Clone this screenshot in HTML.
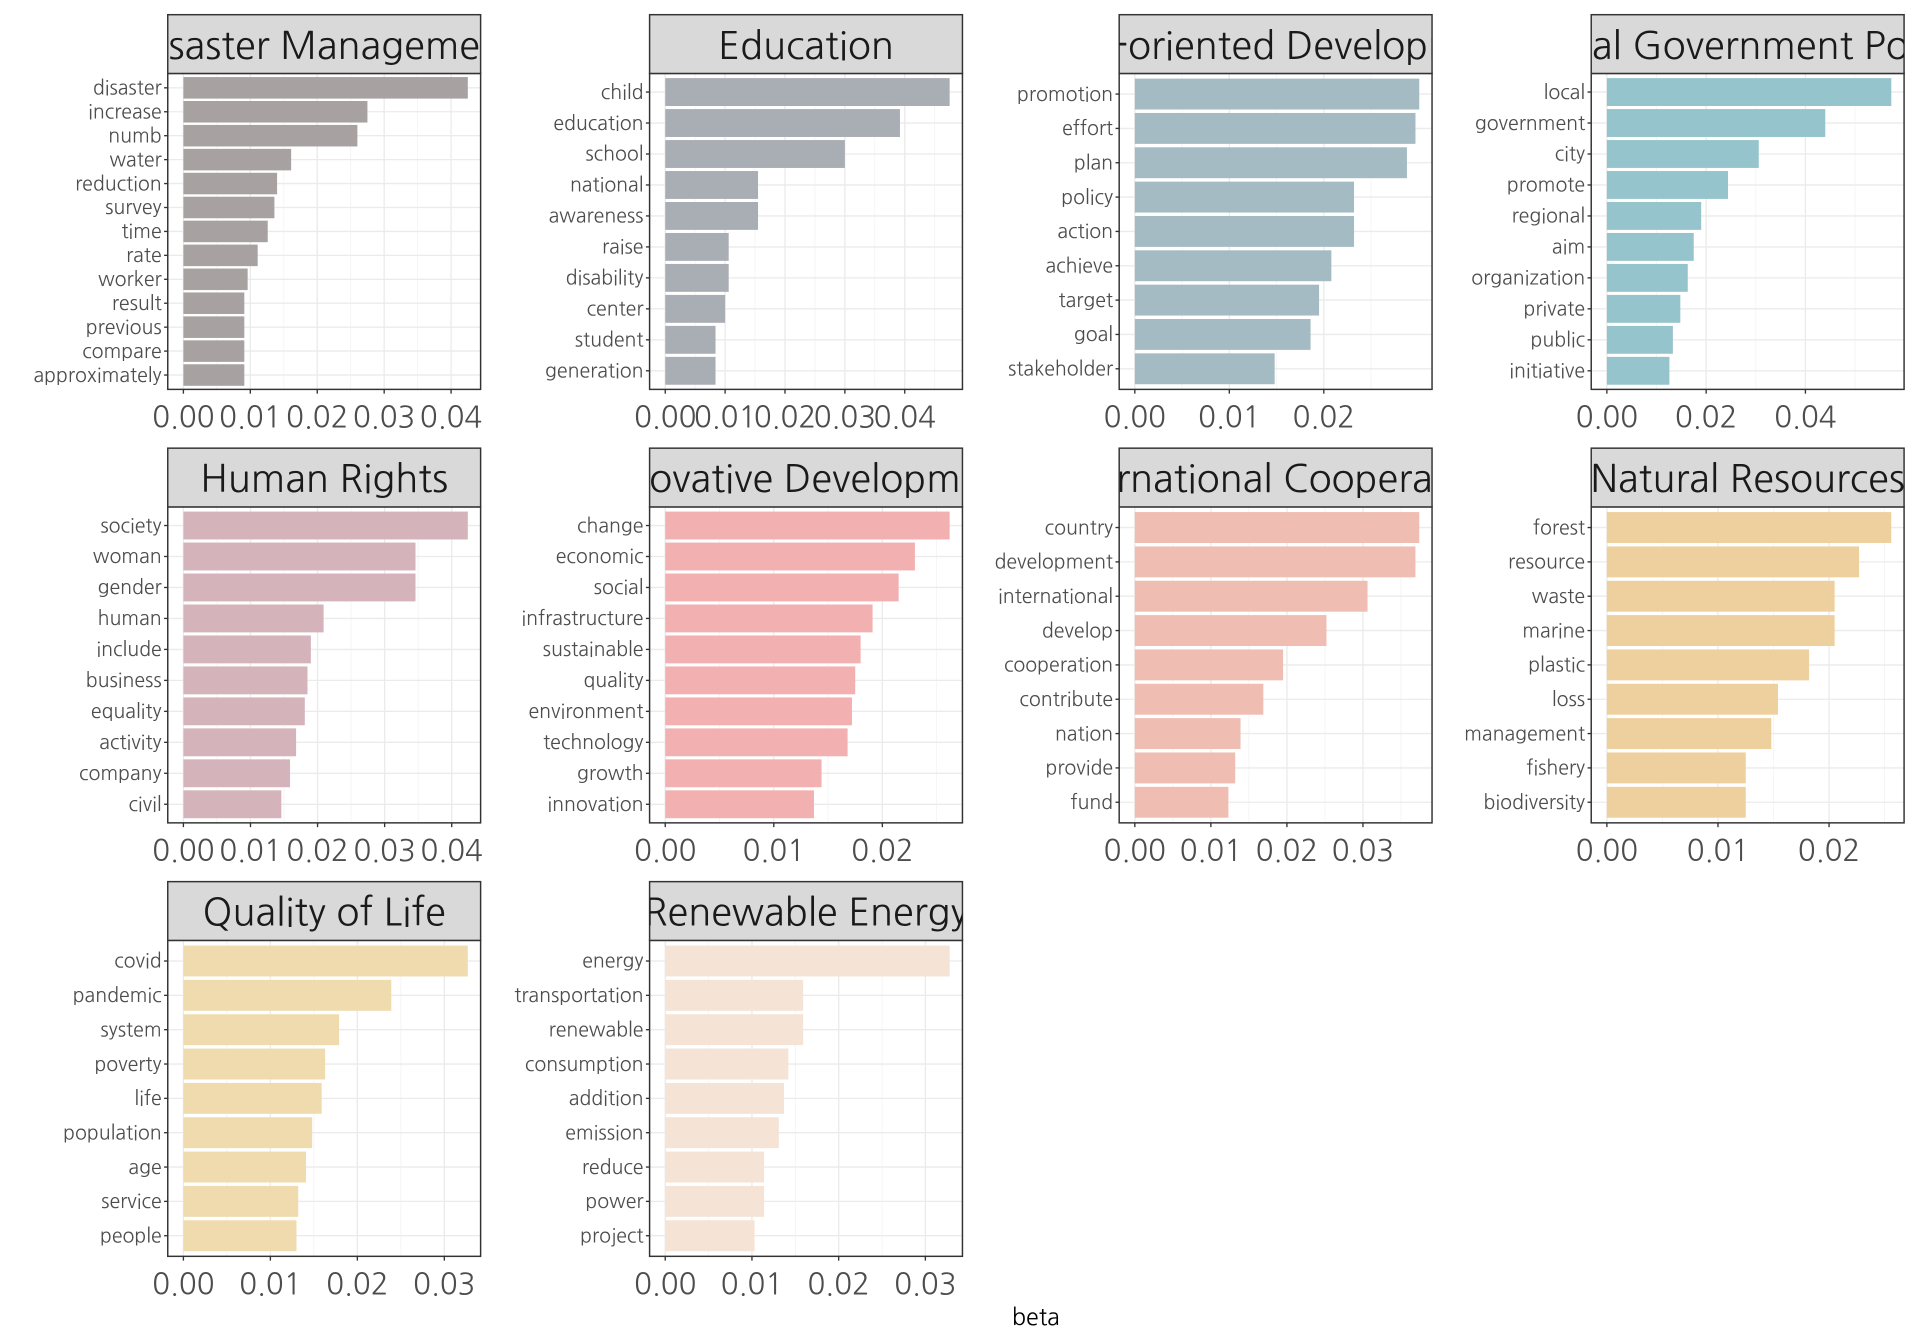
<!DOCTYPE html>
<html><head><meta charset="utf-8">
<style>
html,body{margin:0;padding:0;background:#fff;}
svg{display:block;}
text{font-family:"NanumGothic","Liberation Sans",sans-serif;}
</style></head>
<body>
<svg id="chart" width="1920" height="1344" viewBox="0 0 1568 1097.6" preserveAspectRatio="none" xmlns="http://www.w3.org/2000/svg"></svg>
<script>
const titles = ["Disaster Management","Education","Goal-oriented Development","Local Government Policy","Human Rights","Innovative Development","International Cooperation","Natural Resources","Quality of Life","Renewable Energy"];
const colors = ["#a7a1a1","#a9adb4","#a5bbc3","#95c4cc","#d5b3bb","#f2b1b0","#efbdb2","#eed09f","#f0dbae","#f5e3d5"];
const terms0 = ["disaster","increase","numb","water","reduction","survey","time","rate","worker","result","previous","compare","approximately"];
const vals0 = [0.0425,0.0275,0.0260,0.0161,0.0140,0.0136,0.0126,0.0111,0.0096,0.0091,0.0091,0.0091,0.0091];
const terms1 = ["child","education","school","national","awareness","raise","disability","center","student","generation"];
const vals1 = [0.0475,0.0392,0.0300,0.0155,0.0155,0.0106,0.0106,0.0100,0.0084,0.0084];
const terms2 = ["promotion","effort","plan","policy","action","achieve","target","goal","stakeholder"];
const vals2 = [0.0301,0.0297,0.0288,0.0232,0.0232,0.0208,0.0195,0.0186,0.0148];
const terms3 = ["local","government","city","promote","regional","aim","organization","private","public","initiative"];
const vals3 = [0.0573,0.0440,0.0306,0.0244,0.0190,0.0175,0.0163,0.0148,0.0133,0.0126];
const terms4 = ["society","woman","gender","human","include","business","equality","activity","company","civil"];
const vals4 = [0.0424,0.0346,0.0346,0.0209,0.0190,0.0185,0.0181,0.0168,0.0159,0.0146];
const terms5 = ["change","economic","social","infrastructure","sustainable","quality","environment","technology","growth","innovation"];
const vals5 = [0.0262,0.0230,0.0215,0.0191,0.0180,0.0175,0.0172,0.0168,0.0144,0.0137];
const terms6 = ["country","development","international","develop","cooperation","contribute","nation","provide","fund"];
const vals6 = [0.0374,0.0369,0.0306,0.0252,0.0195,0.0169,0.0139,0.0132,0.0123];
const terms7 = ["forest","resource","waste","marine","plastic","loss","management","fishery","biodiversity"];
const vals7 = [0.0256,0.0227,0.0205,0.0205,0.0182,0.0154,0.0148,0.0125,0.0125];
const terms8 = ["covid","pandemic","system","poverty","life","population","age","service","people"];
const vals8 = [0.0327,0.0239,0.0179,0.0163,0.0159,0.0148,0.0141,0.0132,0.0130];
const terms9 = ["energy","transportation","renewable","consumption","addition","emission","reduce","power","project"];
const vals9 = [0.0328,0.0159,0.0159,0.0142,0.0137,0.0131,0.0114,0.0114,0.0103];
const ticksA = [0,0.01,0.02,0.03,0.04];
const ticksB = [0,0.01,0.02];
const ticksC = [0,0.02,0.04];
const ticksD = [0,0.01,0.02,0.03];
const tickLabelsA = ["0.00","0.01","0.02","0.03","0.04"];
const tickLabelsB = ["0.00","0.01","0.02"];
const tickLabelsC = ["0.00","0.02","0.04"];
const tickLabelsD = ["0.00","0.01","0.02","0.03"];

const allTerms=[terms0,terms1,terms2,terms3,terms4,terms5,terms6,terms7,terms8,terms9];
const allVals=[vals0,vals1,vals2,vals3,vals4,vals5,vals6,vals7,vals8,vals9];
const allTicks=[ticksA,ticksA,ticksB,ticksC,ticksA,ticksB,ticksD,ticksB,ticksD,ticksD];
const allTickLabels=[tickLabelsA,tickLabelsA,tickLabelsB,tickLabelsC,tickLabelsA,tickLabelsB,tickLabelsD,tickLabelsB,tickLabelsD,tickLabelsD];

const NS="http://www.w3.org/2000/svg";
const svg=document.getElementById('chart');
function mk(tag,attrs,parent){const e=document.createElementNS(NS,tag);for(const k in attrs)e.setAttribute(k,attrs[k]);(parent||svg).appendChild(e);return e;}
const colX=[137,530.5,914,1299.5], PW=255.5;
const rowY=[12,366,720], SH=48, PH=258;
const defs=mk('defs',{});

for(let p=0;p<10;p++){
  const col=p%4,row=Math.floor(p/4);
  const x0=colX[col], sy=rowY[row], y0=sy+SH, y1=y0+PH;
  const terms=allTerms[p], vals=allVals[p];
  const g=mk('g',{});
  
  
  const maxV=Math.max(...vals);
  const sc=PW/(1.1*maxV);
  const xs=v=>x0+0.05*1.1*maxV*sc+v*sc;
  const n=terms.length, unit=PH/(n-1+1.2);
  const ys=i=>y0+(0.6+i)*unit; // i=0 top
  mk('rect',{x:x0,y:y0,width:PW,height:PH,fill:'#fff'},g);
  const ticks=allTicks[p];
  const step=ticks[1]-ticks[0];
  for(let k=0;k<=ticks.length;k++){
    const v=ticks[0]+(k+0.5)*step; const xx=xs(v);
    if(xx<x0+PW) mk('line',{x1:xx,x2:xx,y1:y0,y2:y1,stroke:'#f2f2f2','stroke-width':0.6},g);
  }
  ticks.forEach(t=>{const xx=xs(t);mk('line',{x1:xx,x2:xx,y1:y0,y2:y1,stroke:'#ebebeb','stroke-width':1.1},g);});
  terms.forEach((t,i)=>{mk('line',{x1:x0,x2:x0+PW,y1:ys(i),y2:ys(i),stroke:'#ebebeb','stroke-width':1.1},g);});
  terms.forEach((t,i)=>{
    const b=mk('rect',{x:xs(0),y:ys(i)-0.45*unit,width:xs(vals[i])-xs(0),height:0.9*unit,fill:colors[p]},g);
    
    
    mk('line',{x1:x0-3,x2:x0,y1:ys(i),y2:ys(i),stroke:'#333','stroke-width':1.1},g);
    const lb=mk('text',{x:x0-5,y:ys(i)+5.5,'text-anchor':'end','font-size':16,fill:'#4d4d4d'},g);
    lb.textContent=t;
    
    
  });
  mk('rect',{x:x0,y:y0,width:PW,height:PH,fill:'none',stroke:'#333','stroke-width':1.2},g);
  ticks.forEach((t,k)=>{
    const xx=xs(t);
    mk('line',{x1:xx,x2:xx,y1:y1,y2:y1+3.5,stroke:'#333','stroke-width':1.1},g);
    const tl=mk('text',{x:xx,y:y1+31,'text-anchor':'middle','font-size':24,fill:'#4d4d4d'},g);
    tl.textContent=allTickLabels[p][k];
    
    
  });
  const cp=mk('clipPath',{id:'cp'+p},defs);
  mk('rect',{x:x0,y:sy,width:PW,height:SH},cp);
  const st=mk('rect',{x:x0,y:sy,width:PW,height:SH,fill:'#d9d9d9',stroke:'#333','stroke-width':1.2},g);
  
  
  const tt=mk('text',{x:x0+PW/2,y:sy+36,'text-anchor':'middle','font-size':31,fill:'#1a1a1a','clip-path':'url(#cp'+p+')'},g);
  tt.textContent=titles[p];
  
  
}
const xt=mk('text',{x:846,y:1082,'text-anchor':'middle','font-size':19,fill:'#000'});
xt.textContent='beta';


</script>
</body></html>
